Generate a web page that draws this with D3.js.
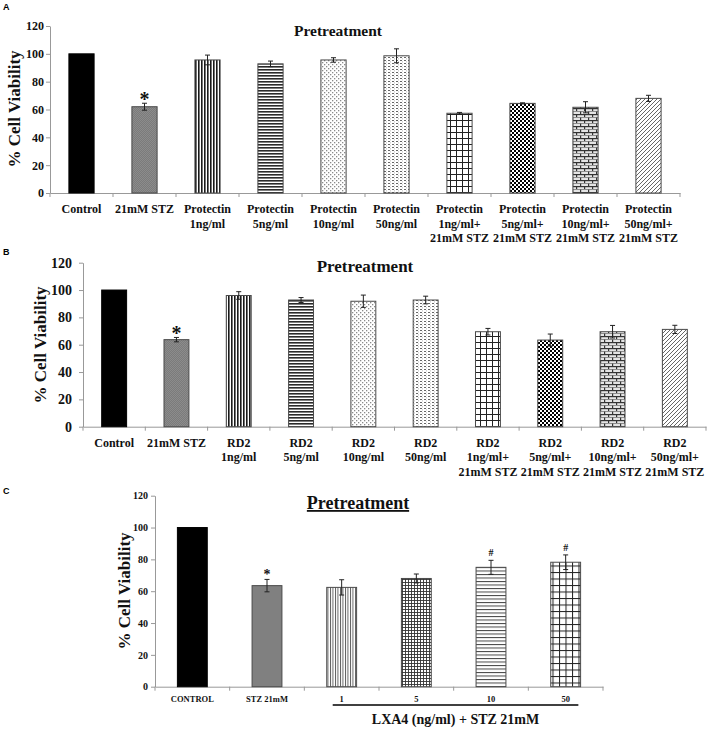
<!DOCTYPE html>
<html>
<head>
<meta charset="utf-8">
<script src="https://cdn.jsdelivr.net/npm/d3@7"></script>
<style>
  body { margin: 0; background: #fff; }
  text { font-family: "Liberation Serif", "Times New Roman", serif; }
</style>
</head>
<body>
<div id="chart"></div>
<script>
"use strict";

// shared y ticks
var yTicks = [0, 20, 40, 60, 80, 100, 120];

// panel A - Protectin
var catsA = ["Control", "21mM STZ", "Protectin\n1ng/ml", "Protectin\n5ng/ml", "Protectin\n10ng/ml",
  "Protectin\n50ng/ml", "Protectin\n1ng/ml+\n21mM STZ", "Protectin\n5ng/ml+\n21mM STZ",
  "Protectin\n10ng/ml+\n21mM STZ", "Protectin\n50ng/ml+\n21mM STZ"];
var valsA = [100, 62, 95.6, 92.8, 95.6, 98.6, 57.3, 64.4, 61.6, 68];
var errsA = [0, 2.5, 3.5, 2, 1.6, 5, 0.6, 0.4, 4, 2.2];
var marksA = ["", "*", "", "", "", "", "", "", "", ""];

// panel B - RD2
var catsB = ["Control", "21mM STZ", "RD2\n1ng/ml", "RD2\n5ng/ml", "RD2\n10ng/ml", "RD2\n50ng/ml",
  "RD2\n1ng/ml+\n21mM STZ", "RD2\n5ng/ml+\n21mM STZ", "RD2\n10ng/ml+\n21mM STZ", "RD2\n50ng/ml+\n21mM STZ"];
var valsB = [100, 63.7, 96, 92.7, 91.8, 92.7, 69.5, 63.4, 69.5, 71.2];
var errsB = [0, 1.6, 2.8, 1.8, 4.5, 2.8, 2.4, 4.4, 4.6, 3];
var marksB = ["", "*", "", "", "", "", "", "", "", ""];

// panel C - LXA4
var catsC = ["CONTROL", "STZ 21mM", "1", "5", "10", "50"];
var valsC = [100, 63.5, 62.4, 68, 75, 78.2];
var errsC = [0, 3.9, 4.8, 2.8, 4.4, 4.6];
var marksC = ["", "*", "", "", "#", "#"];
var groupLabelC = "LXA4 (ng/ml) + STZ 21mM";

var W = 708, H = 732;

var svg = d3.select("#chart").append("svg")
    .attr("width", W)
    .attr("height", H);

var defs = svg.append("defs");

// pattern helper: tile with a background and drawn content
function pattern(id, w, h, bg, draw) {
  var p = defs.append("pattern")
      .attr("id", id)
      .attr("patternUnits", "userSpaceOnUse")
      .attr("width", w)
      .attr("height", h);
  p.append("rect").attr("width", w).attr("height", h).attr("fill", bg);
  draw(p);
}

pattern("stz", 2, 2, "#7b7b7b", function(p) {
  p.append("rect").attr("width", 1).attr("height", 1).attr("fill", "#8c8c8c");
  p.append("rect").attr("x", 1).attr("y", 1).attr("width", 1).attr("height", 1).attr("fill", "#8c8c8c");
});
pattern("vlines", 3, 3, "#fff", function(p) {
  p.append("rect").attr("width", 1.6).attr("height", 3).attr("fill", "#1a1a1a");
});
pattern("hlines", 3, 3, "#fff", function(p) {
  p.append("rect").attr("width", 3).attr("height", 1.6).attr("fill", "#2a2a2a");
});
pattern("dots", 4, 4, "#fff", function(p) {
  p.append("rect").attr("width", 1.3).attr("height", 1.3).attr("fill", "#8a8a8a");
  p.append("rect").attr("x", 2).attr("y", 2).attr("width", 1.3).attr("height", 1.3).attr("fill", "#8a8a8a");
});
pattern("dashes", 4, 3, "#fff", function(p) {
  p.append("rect").attr("width", 2).attr("height", 1).attr("fill", "#666");
  p.append("rect").attr("x", 2).attr("y", 1.5).attr("width", 1).attr("height", 0.8).attr("fill", "#aaa");
});
pattern("grid", 6, 6, "#fff", function(p) {
  p.append("rect").attr("width", 1).attr("height", 6).attr("fill", "#222");
  p.append("rect").attr("width", 6).attr("height", 1).attr("fill", "#222");
});
pattern("checker", 4, 4, "#fff", function(p) {
  p.append("rect").attr("width", 2).attr("height", 2).attr("fill", "#000");
  p.append("rect").attr("x", 2).attr("y", 2).attr("width", 2).attr("height", 2).attr("fill", "#000");
});
pattern("brick", 8, 6, "#e4e4e4", function(p) {
  p.append("rect").attr("width", 8).attr("height", 1.2).attr("fill", "#333");
  p.append("rect").attr("width", 1.2).attr("height", 3).attr("fill", "#333");
  p.append("rect").attr("x", 4).attr("y", 3).attr("width", 1.2).attr("height", 3).attr("fill", "#333");
  p.append("rect").attr("y", 3).attr("width", 8).attr("height", 0.8).attr("fill", "#777");
});
pattern("diag", 4, 4, "#fff", function(p) {
  p.append("path").attr("d", "M-1,1 L1,-1 M0,4 L4,0 M3,5 L5,3")
      .attr("stroke", "#555").attr("stroke-width", 0.9);
});
pattern("cvlines", 2.5, 3, "#fff", function(p) {
  p.append("rect").attr("width", 0.9).attr("height", 3).attr("fill", "#555");
});
pattern("cfine", 3, 3, "#fff", function(p) {
  p.append("rect").attr("width", 0.9).attr("height", 3).attr("fill", "#333");
  p.append("rect").attr("width", 3).attr("height", 0.9).attr("fill", "#333");
});
pattern("chlines", 3, 3.5, "#fff", function(p) {
  p.append("rect").attr("width", 3).attr("height", 1).attr("fill", "#444");
});
pattern("cgrid", 6.5, 6.5, "#fff", function(p) {
  p.append("rect").attr("width", 1).attr("height", 6.5).attr("fill", "#222");
  p.append("rect").attr("width", 6.5).attr("height", 1).attr("fill", "#222");
});

function drawPanel(cfg) {
  var g = svg.append("g");

  var x = d3.scaleBand().domain(cfg.cats).range([cfg.left, cfg.right]);
  var y = d3.scaleLinear().domain([0, 120]).range([cfg.bottom, cfg.top]);
  var bw = x.bandwidth() * cfg.barRatio;

  // y axis
  var ya = g.append("g")
      .attr("transform", "translate(" + cfg.left + ",0)")
      .call(d3.axisLeft(y).tickValues(yTicks).tickSize(4).tickSizeOuter(0).tickPadding(cfg.yPad));
  ya.select(".domain").attr("stroke", "#999");
  ya.selectAll(".tick line").attr("stroke", "#999");
  ya.selectAll(".tick text")
      .style("font-family", "'Liberation Serif', serif")
      .style("font-weight", "bold")
      .style("font-size", cfg.yFont + "px")
      .attr("fill", "#111");

  // x axis with multi-line category labels
  var xa = g.append("g")
      .attr("transform", "translate(0," + cfg.bottom + ")")
      .call(d3.axisBottom(x).tickSize(0).tickSizeOuter(0));
  xa.select(".domain").attr("stroke", "#999");
  xa.selectAll(".tick text")
      .style("font-family", "'Liberation Serif', serif")
      .style("font-weight", "bold")
      .style("font-size", cfg.catFont + "px")
      .attr("fill", "#111")
      .attr("y", cfg.catY)
      .attr("dy", null)
      .each(function(d) {
        var t = d3.select(this);
        t.text(null);
        d.split("\n").forEach(function(line, i) {
          t.append("tspan").attr("x", 0).attr("dy", i === 0 ? 0 : cfg.lineH).text(line);
        });
      });

  // boundary ticks on the x axis
  var bounds = cfg.cats.map(function(c) { return x(c); }).concat([cfg.right]);
  g.selectAll(".bt").data(bounds).enter().append("line")
      .attr("x1", function(d) { return d; })
      .attr("x2", function(d) { return d; })
      .attr("y1", cfg.bottom)
      .attr("y2", cfg.bottom + 4)
      .attr("stroke", "#999");

  // bars
  g.selectAll(".bar").data(cfg.vals).enter().append("rect")
      .attr("x", function(d, i) { return x(cfg.cats[i]) + (x.bandwidth() - bw) / 2; })
      .attr("y", function(d) { return y(d); })
      .attr("width", bw)
      .attr("height", function(d) { return cfg.bottom - y(d); })
      .attr("fill", function(d, i) { return cfg.fills[i]; })
      .attr("stroke", function(d, i) { return i === 0 ? "#000" : "#4a4a4a"; })
      .attr("stroke-width", 1);

  // error bars and significance marks
  cfg.vals.forEach(function(v, i) {
    var e = cfg.errs[i];
    if (!e) return;
    var cx = x(cfg.cats[i]) + x.bandwidth() / 2;
    var path = "M" + cx + "," + y(v - e) + "V" + y(v + e) +
      "M" + (cx - 2.5) + "," + y(v + e) + "H" + (cx + 2.5) +
      "M" + (cx - 2.5) + "," + y(v - e) + "H" + (cx + 2.5);
    g.append("path").attr("d", path).attr("stroke", "#222").attr("stroke-width", 1).attr("fill", "none");
    if (cfg.marks[i]) {
      var isStar = cfg.marks[i] === "*";
      g.append("text")
          .attr("x", cx)
          .attr("y", y(v + e) + (isStar ? cfg.starDy : cfg.hashDy))
          .attr("text-anchor", "middle")
          .style("font-weight", "bold")
          .style("font-size", (isStar ? cfg.starFont : cfg.hashFont) + "px")
          .attr("fill", "#111")
          .text(cfg.marks[i]);
    }
  });

  // y label
  g.append("text")
      .attr("transform", "translate(" + cfg.ylabX + "," + cfg.ylabY + ") rotate(-90)")
      .attr("text-anchor", "middle")
      .attr("dy", "0.35em")
      .style("font-weight", "bold")
      .style("font-size", "17px")
      .attr("fill", "#111")
      .text("% Cell Viability");

  // title
  g.append("text")
      .attr("x", cfg.titleX)
      .attr("y", cfg.titleY)
      .attr("text-anchor", "middle")
      .style("font-weight", "bold")
      .style("font-size", cfg.titleFont + "px")
      .style("text-decoration", cfg.underline ? "underline" : null)
      .attr("fill", "#111")
      .text("Pretreatment");

  // panel letter
  svg.append("text")
      .attr("x", 3)
      .attr("y", cfg.letterY)
      .style("font-family", "'Liberation Sans', Arial, sans-serif")
      .style("font-weight", "bold")
      .style("font-size", "9px")
      .text(cfg.letter);

  return {x: x, y: y, g: g};
}

drawPanel({
  letter: "A", letterY: 10,
  cats: catsA, vals: valsA, errs: errsA, marks: marksA,
  fills: ["#000", "url(#stz)", "url(#vlines)", "url(#hlines)", "url(#dots)", "url(#dashes)",
    "url(#grid)", "url(#checker)", "url(#brick)", "url(#diag)"],
  left: 50, right: 680, top: 26, bottom: 193, barRatio: 0.4,
  yFont: 12, yPad: 2, catFont: 12, catY: 20, lineH: 14.5,
  starFont: 20, starDy: 3, hashFont: 10, hashDy: -4,
  ylabX: 14, ylabY: 109,
  titleX: 338, titleY: 36, titleFont: 15.5, underline: false
});

drawPanel({
  letter: "B", letterY: 255,
  cats: catsB, vals: valsB, errs: errsB, marks: marksB,
  fills: ["#000", "url(#stz)", "url(#vlines)", "url(#hlines)", "url(#dots)", "url(#dashes)",
    "url(#grid)", "url(#checker)", "url(#brick)", "url(#diag)"],
  left: 83, right: 706, top: 262.7, bottom: 426.7, barRatio: 0.4,
  yFont: 14, yPad: 7, catFont: 12, catY: 20, lineH: 14.5,
  starFont: 20, starDy: 3, hashFont: 10, hashDy: -4,
  ylabX: 40, ylabY: 345,
  titleX: 365, titleY: 271.5, titleFont: 17, underline: false
});

var pc = drawPanel({
  letter: "C", letterY: 494,
  cats: catsC, vals: valsC, errs: errsC, marks: marksC,
  fills: ["#000", "#808080", "url(#cvlines)", "url(#cfine)", "url(#chlines)", "url(#cgrid)"],
  left: 155, right: 603, top: 495.7, bottom: 686.7, barRatio: 0.4,
  yFont: 10, yPad: 3, catFont: 8.5, catY: 15, lineH: 10,
  starFont: 14, starDy: 0, hashFont: 10, hashDy: -4,
  ylabX: 124, ylabY: 591,
  titleX: 358, titleY: 509, titleFont: 18, underline: true
});

// group bracket under the LXA4 doses
var step = pc.x.step();
pc.g.append("line")
    .attr("x1", pc.x("1") + step * 0.38)
    .attr("x2", pc.x("50") + step * 0.67)
    .attr("y1", 705)
    .attr("y2", 705)
    .attr("stroke", "#000")
    .attr("stroke-width", 1.5);
pc.g.append("text")
    .attr("x", (pc.x("1") + step * 0.38 + pc.x("50") + step * 0.67) / 2)
    .attr("y", 724)
    .attr("text-anchor", "middle")
    .style("font-weight", "bold")
    .style("font-size", "14px")
    .attr("fill", "#111")
    .text(groupLabelC);
</script>
</body>
</html>
